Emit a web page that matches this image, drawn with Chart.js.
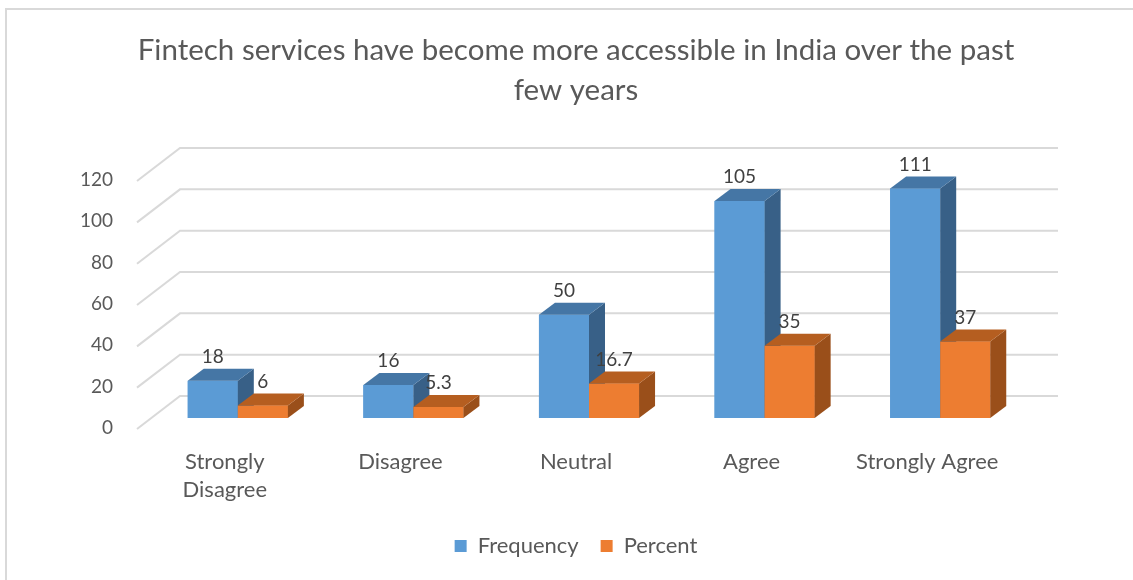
<!DOCTYPE html>
<html lang="en">
<head>
    <meta charset="UTF-8">
    <title>Fintech accessibility</title>
    <script src="https://cdn.jsdelivr.net/npm/chart.js"></script>
    <style>
        body { margin: 0; background: #ffffff; }
        #chart { display: block; }
    </style>
</head>
<body>
    <canvas id="chart" width="1133" height="580"></canvas>

    <script>
        const categories = [['Strongly', 'Disagree'], 'Disagree', 'Neutral', 'Agree', 'Strongly Agree'];
        const frequency = [18, 16, 50, 105, 111];
        const percent = [6, 5.3, 16.7, 35, 37];
        const yTicks = [0, 20, 40, 60, 80, 100, 120];

        const FONT = 'Lato, "Open Sans", sans-serif';
        const DEPTH_X = 16, DEPTH_Y = -12;   // bar depth
        const WALL_X = 43, WALL_Y = -33;     // wall depth

        // faces for the 3D look: [front, top, side]
        const shades = [
            ['#5B9BD5', '#4576A5', '#386087'],
            ['#ED7D31', '#B55E20', '#9A4F1A']
        ];

        const frame = {
            id: 'frame',
            beforeDraw(chart) {
                const c = chart.ctx;
                c.save();
                c.fillStyle = '#ffffff';
                c.fillRect(0, 0, chart.width, chart.height);
                c.strokeStyle = '#d9d9d9';
                c.lineWidth = 2;
                c.beginPath();
                c.moveTo(6, chart.height);
                c.lineTo(6, 9);
                c.lineTo(chart.width, 9);
                c.stroke();
                c.restore();
            },
            beforeDatasetsDraw(chart) {
                // back wall grid + side wall diagonals
                const c = chart.ctx, y = chart.scales.y, area = chart.chartArea;
                c.save();
                c.strokeStyle = '#d9d9d9';
                c.lineWidth = 2;
                yTicks.forEach(v => {
                    const yb = y.getPixelForValue(v);
                    const fx = area.left - 13, fy = yb + 11;
                    c.beginPath();
                    c.moveTo(fx, fy);
                    c.lineTo(fx + WALL_X, fy + WALL_Y);
                    c.lineTo(area.right + 30, fy + WALL_Y);
                    c.stroke();
                });
                c.restore();
            },
            afterDatasetsDraw(chart) {
                const c = chart.ctx;
                c.save();
                // redraw left to right so each side face sits behind the next bar
                chart.data.datasets.forEach((ds, i) => {
                    const [, top, side] = shades[i];
                    chart.getDatasetMeta(i).data.forEach(bar => {
                        const l = bar.x - bar.width / 2, r = bar.x + bar.width / 2;
                        bar.draw(c);
                        c.fillStyle = side;
                        c.beginPath();
                        c.moveTo(r, bar.y);
                        c.lineTo(r + DEPTH_X, bar.y + DEPTH_Y);
                        c.lineTo(r + DEPTH_X, bar.base + DEPTH_Y);
                        c.lineTo(r, bar.base);
                        c.closePath();
                        c.fill();
                        c.fillStyle = top;
                        c.beginPath();
                        c.moveTo(l, bar.y);
                        c.lineTo(l + DEPTH_X, bar.y + DEPTH_Y);
                        c.lineTo(r + DEPTH_X, bar.y + DEPTH_Y);
                        c.lineTo(r, bar.y);
                        c.closePath();
                        c.fill();
                    });
                });
                c.font = '19px ' + FONT;
                c.fillStyle = '#404040';
                c.textAlign = 'center';
                c.textBaseline = 'middle';
                chart.data.datasets.forEach((ds, i) => {
                    chart.getDatasetMeta(i).data.forEach((bar, j) => {
                        c.fillText(String(ds.data[j]), bar.x, bar.y - 24);
                    });
                });
                c.restore();
            }
        };

        new Chart(document.getElementById('chart'), {
            type: 'bar',
            data: {
                labels: categories,
                datasets: [
                    { label: 'Frequency', data: frequency, backgroundColor: shades[0][0] },
                    { label: 'Percent', data: percent, backgroundColor: shades[1][0] }
                ]
            },
            options: {
                responsive: false,
                animation: false,
                categoryPercentage: 0.57,
                barPercentage: 1,
                layout: { padding: { left: 19, right: 0, top: 0, bottom: 13 } },
                scales: {
                    x: {
                        afterFit: s => { s.height = 95; },
                        grid: { display: false, drawTicks: false },
                        border: { display: false },
                        ticks: {
                            labelOffset: -13, padding: 30, maxRotation: 0, autoSkip: false,
                            color: '#595959', font: { family: FONT, size: 22, lineHeight: 1.27 }
                        }
                    },
                    y: {
                        min: 0, max: 120,
                        afterFit: s => { s.width = 131; },
                        grid: { display: false, drawTicks: false },
                        border: { display: false },
                        ticks: {
                            stepSize: 20, labelOffset: 10, padding: 37,
                            color: '#595959', font: { family: FONT, size: 19 }
                        }
                    },
                    // empty right margin so title and legend centre like the original
                    yRight: {
                        position: 'right',
                        afterFit: s => { s.width = 105; },
                        grid: { display: false, drawTicks: false },
                        border: { display: false },
                        ticks: { display: false }
                    }
                },
                plugins: {
                    tooltip: { enabled: false },
                    title: {
                        display: true,
                        text: ['Fintech services have become more accessible in India over the past', 'few years'],
                        color: '#595959',
                        font: { family: FONT, size: 29.5, weight: 'normal', lineHeight: 1.356 },
                        padding: { top: 30, bottom: 60 }
                    },
                    legend: {
                        position: 'bottom',
                        labels: {
                            boxWidth: 12, boxHeight: 12, padding: 22,
                            color: '#595959', font: { family: FONT, size: 22 }
                        }
                    }
                }
            },
            plugins: [frame]
        });
    </script>
</body>
</html>
